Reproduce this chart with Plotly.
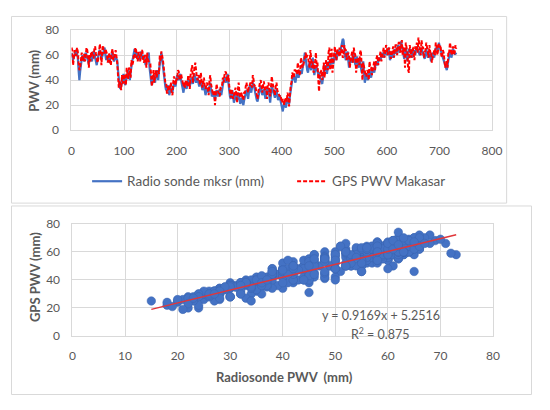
import plotly.graph_objects as go

# ---------------- data ----------------
# readings every 3 days (days 0, 3, 6, ...)
day_step = 3
radiosonde_pwv = [
    62, 56, 60, 64, 58, 40, 54, 60, 55, 62,
    58, 53, 60, 55, 63, 58, 52, 60, 64, 57,
    61, 66, 56, 60, 54, 58, 62, 55, 59, 56,
    40, 33, 38, 45, 36, 42, 48, 40, 52, 58,
    65, 58, 62, 56, 63, 57, 60, 52, 58, 62,
    42, 36, 44, 38, 48, 40, 55, 62, 50, 38,
    32, 36, 28, 34, 30, 38, 35, 44, 40, 45,
    36, 30, 38, 33, 40, 35, 42, 37, 45, 38,
    42, 35, 40, 32, 36, 28, 34, 30, 38, 27,
    30, 24, 32, 27, 33, 28, 37, 42, 38, 45,
    30, 25, 32, 22, 28, 24, 30, 21, 26, 20,
    28, 32, 25, 36, 30, 38, 34, 26, 23, 30,
    35, 28, 33, 25, 34, 32, 22, 36, 30, 26,
    33, 24, 28, 20, 15, 22, 18, 26, 21, 32,
    40, 44, 38, 46, 42, 48, 45, 52, 62, 50,
    46, 55, 48, 58, 44, 52, 46, 45, 40, 37,
    48, 52, 45, 55, 50, 58, 53, 62, 56, 64,
    60, 66, 73, 62, 56, 63, 50, 58, 54, 62,
    52, 59, 50, 56, 46, 55, 38, 45, 40, 48,
    42, 50, 46, 55, 52, 58, 56, 62, 58, 64,
    60, 66, 56, 63, 58, 65, 61, 68, 62, 71,
    64, 57, 66, 55, 65, 65, 58, 64, 60, 67,
    62, 60, 66, 61, 57, 65, 58, 63, 55, 62,
    58, 66, 62, 70, 64, 60, 56, 52, 48, 56,
    63, 58, 65, 61, 62,
]
gps_pwv = [
    66, 52, 64, 60, 63, 48, 60, 55, 61, 58,
    64, 50, 55, 62, 58, 67, 58, 57, 69, 52,
    68, 62, 63, 54, 62, 52, 65, 58, 64, 54,
    34, 36, 44, 38, 42, 50, 41, 48, 56, 54,
    58, 64, 55, 62, 58, 63, 54, 59, 62, 55,
    53, 35, 48, 44, 42, 47, 60, 63, 56, 44,
    38, 30, 32, 38, 28, 43, 36, 40, 47, 41,
    42, 35, 34, 40, 44, 33, 48, 38, 50, 46,
    40, 42, 46, 34, 42, 33, 38, 28, 44, 32,
    28, 20, 37, 30, 27, 34, 42, 44, 46, 40,
    36, 26, 30, 28, 34, 22, 38, 26, 30, 24,
    30, 38, 30, 36, 37, 44, 35, 32, 25, 36,
    40, 30, 39, 32, 25, 38, 27, 43, 35, 28,
    38, 30, 27, 25, 25, 20, 24, 30, 19, 36,
    46, 42, 48, 45, 50, 46, 55, 52, 58, 58,
    58, 50, 57, 55, 48, 62, 54, 31, 46, 40,
    54, 50, 53, 62, 48, 65, 55, 67, 56, 60,
    66, 62, 58, 68, 64, 60, 60, 56, 63, 66,
    60, 56, 58, 62, 52, 54, 46, 43, 47, 55,
    50, 48, 55, 54, 60, 56, 63, 60, 66, 62,
    66, 64, 62, 60, 67, 63, 68, 66, 70, 66,
    60, 64, 70, 62, 46, 62, 66, 60, 67, 70,
    74, 62, 72, 66, 62, 70, 60, 68, 63, 58,
    64, 70, 60, 69, 68, 58, 62, 50, 55, 63,
    70, 60, 67, 62, 65,
]
# readings in between (days 1.5, 4.5, 7.5, ...)
radiosonde_pwv_mid = [
    58, 59, 63, 61, 48, 47, 57, 57, 59, 60,
    55, 57, 57, 60, 61, 55, 56, 63, 60, 59,
    64, 60, 58, 57, 56, 60, 58, 57, 57, 48,
    35, 35, 42, 40, 39, 45, 44, 46, 55, 62,
    61, 60, 59, 60, 60, 59, 56, 55, 60, 50,
    39, 40, 41, 43, 44, 48, 58, 56, 44, 35,
    34, 32, 31, 32, 34, 36, 40, 42, 43, 40,
    33, 34, 35, 37, 38, 38, 40, 41, 41, 40,
    38, 37, 36, 34, 32, 31, 32, 34, 32, 28,
    27, 28, 29, 30, 30, 32, 40, 40, 42, 38,
    27, 28, 27, 25, 26, 27, 25, 23, 23, 24,
    30, 28, 30, 33, 34, 36, 30, 24, 27, 33,
    31, 30, 29, 29, 33, 27, 29, 33, 28, 29,
    28, 26, 24, 18, 19, 20, 22, 23, 27, 36,
    42, 41, 42, 44, 45, 46, 49, 57, 56, 48,
    50, 51, 53, 51, 48, 49, 45, 42, 38, 43,
    50, 48, 50, 52, 54, 55, 57, 59, 60, 62,
    63, 69, 72, 59, 59, 56, 54, 56, 58, 57,
    55, 54, 53, 51, 50, 46, 41, 42, 44, 45,
    46, 48, 50, 53, 55, 57, 59, 60, 61, 62,
    63, 61, 59, 60, 61, 63, 64, 65, 66, 68,
    60, 61, 60, 60, 62, 61, 61, 62, 64, 65,
    61, 63, 63, 59, 61, 61, 60, 59, 58, 60,
    62, 64, 66, 67, 62, 58, 54, 50, 52, 60,
    60, 62, 63, 61,
]
gps_pwv_mid = [
    64, 57, 60, 66, 54, 50, 62, 60, 55, 66,
    59, 60, 63, 58, 65, 61, 54, 66, 62, 64,
    62, 65, 61, 60, 54, 62, 56, 61, 60, 44,
    40, 32, 38, 45, 36, 44, 50, 42, 52, 60,
    66, 58, 62, 55, 64, 56, 60, 50, 56, 54,
    44, 42, 38, 48, 47, 45, 55, 60, 50, 38,
    30, 36, 35, 30, 38, 40, 42, 48, 40, 45,
    37, 38, 40, 35, 40, 44, 52, 46, 54, 42,
    44, 36, 40, 38, 35, 36, 32, 40, 37, 30,
    32, 26, 33, 28, 34, 36, 38, 47, 40, 44,
    30, 33, 25, 30, 28, 32, 30, 28, 26, 30,
    35, 33, 36, 38, 34, 40, 36, 28, 31, 38,
    35, 36, 33, 35, 37, 32, 34, 38, 32, 35,
    32, 29, 28, 22, 21, 26, 23, 27, 30, 38,
    44, 48, 46, 54, 44, 58, 50, 56, 62, 60,
    52, 64, 50, 46, 56, 50, 40, 46, 48, 47,
    42, 56, 48, 66, 58, 46, 64, 58, 65, 60,
    60, 68, 59, 64, 56, 62, 50, 60, 54, 62,
    46, 58, 52, 64, 40, 50, 44, 48, 40, 50,
    44, 53, 48, 58, 52, 62, 55, 64, 58, 68,
    60, 66, 57, 65, 58, 68, 60, 70, 62, 72,
    66, 50, 64, 48, 68, 58, 66, 56, 64, 62,
    68, 60, 66, 58, 64, 66, 58, 62, 54, 60,
    60, 68, 64, 66, 60, 64, 56, 54, 50, 62,
    66, 64, 60, 68,
]

# regression reported on the chart
trend_slope = 0.9169
trend_intercept = 5.2516
trend_r2 = 0.875

top_x_ticks = [0, 100, 200, 300, 400, 500, 600, 700, 800]
top_y_ticks = [0, 20, 40, 60, 80]
bot_x_ticks = [0, 10, 20, 30, 40, 50, 60, 70, 80]
bot_y_ticks = [0, 20, 40, 60, 80]

# interleave the two reading sets into one daily-ordered series
days, rs_all, gps_all = [], [], []
for i in range(len(radiosonde_pwv)):
    days.append(i * day_step)
    rs_all.append(radiosonde_pwv[i])
    gps_all.append(gps_pwv[i])
    if i < len(radiosonde_pwv_mid):
        days.append(i * day_step + day_step / 2)
        rs_all.append(radiosonde_pwv_mid[i])
        gps_all.append(gps_pwv_mid[i])

trend_x = [min(rs_all), max(rs_all)]

# ---------------- figure ----------------
# page body keeps its default 8px margin, so the figure is 16px smaller
# than the 550x410 window and screen coordinates are offset by 8px.
OFF = 8
W, H = 550 - 2 * OFF, 410 - 2 * OFF
FONT = "Lato"
GRAY = "#595959"
GRID = "#D9D9D9"
BLUE = "#4472C4"
RED = "#FF0000"


def fx(sx):
    return min(max((sx - OFF) / W, 0.5 / W), 1 - 0.5 / W)


def fy(sy):
    return min(max(1 - (sy - OFF) / H, 0.5 / H), 1 - 0.5 / H)


fig = go.Figure()

fig.add_trace(go.Scatter(
    x=days, y=rs_all, mode="lines", name="Radio sonde mksr (mm)",
    line=dict(color=BLUE, width=2.2), xaxis="x", yaxis="y"))
fig.add_trace(go.Scatter(
    x=days, y=gps_all, mode="lines", name="GPS PWV Makasar",
    line=dict(color=RED, width=2, dash="4px,2px"), xaxis="x", yaxis="y"))

fig.add_trace(go.Scatter(
    x=rs_all, y=gps_all, mode="markers", showlegend=False,
    marker=dict(color=BLUE, size=8.5, line=dict(color="#3A64B0", width=0.5)),
    xaxis="x2", yaxis="y2"))
fig.add_trace(go.Scatter(
    x=trend_x, y=[trend_slope * v + trend_intercept for v in trend_x],
    mode="lines", showlegend=False, line=dict(color="#E0363A", width=1.5),
    xaxis="x2", yaxis="y2"))

axis_common = dict(
    showgrid=True, gridcolor=GRID, gridwidth=1, zeroline=False,
    showline=True, linecolor=GRID, mirror=True,
    tickfont=dict(family=FONT, size=12, color=GRAY), ticks="",
    ticklabelstandoff=9,
)

fig.update_layout(
    width=W, height=H, margin=dict(l=0, r=0, t=0, b=0),
    paper_bgcolor="white", plot_bgcolor="white",
    font=dict(family=FONT, color=GRAY),
    xaxis=dict(domain=[fx(70), fx(501)], range=[0, 800], tickvals=top_x_ticks,
               anchor="y", **axis_common),
    yaxis=dict(domain=[fy(126.7), fy(22.7)], range=[0, 80], tickvals=top_y_ticks,
               anchor="x", **axis_common),
    xaxis2=dict(domain=[fx(71), fx(502)], range=[0, 80], tickvals=bot_x_ticks,
                anchor="y2", **axis_common),
    yaxis2=dict(domain=[fy(340.7), fy(224)], range=[0, 80], tickvals=bot_y_ticks,
                anchor="x2", **axis_common),
    legend=dict(orientation="h", x=fx(86), xanchor="left", y=fy(180), yanchor="middle",
                font=dict(family=FONT, size=13.5, color=GRAY), bgcolor="rgba(0,0,0,0)",
                entrywidthmode="pixels", entrywidth=160, borderwidth=0,
                itemwidth=30),
    showlegend=True,
)

# panel borders
fig.add_shape(type="rect", xref="paper", yref="paper", x0=fx(4), x1=fx(516),
              y0=fy(202.5), y1=fy(4.5), line=dict(color=GRID, width=1))
fig.add_shape(type="rect", xref="paper", yref="paper", x0=fx(4), x1=fx(548),
              y0=fy(408), y1=fy(205.5), line=dict(color=GRID, width=1))

# axis titles
title_font = dict(family=FONT, size=13, color=GRAY)
fig.add_annotation(text="<b>PWV (mm)</b>", xref="paper", yref="paper", x=fx(32), y=fy(75),
                   xanchor="center", yanchor="middle", textangle=-90, showarrow=False,
                   font=title_font)
fig.add_annotation(text="<b>GPS PWV (mm)</b>", xref="paper", yref="paper", x=fx(32), y=fy(279),
                   xanchor="center", yanchor="middle", textangle=-90, showarrow=False,
                   font=title_font)
fig.add_annotation(text="<b>Radiosonde PWV  (mm)</b>", xref="paper", yref="paper", x=fx(288),
                   y=fy(383), xanchor="center", yanchor="middle", showarrow=False,
                   font=title_font)

# regression text
eq_font = dict(family=FONT, size=12.5, color=GRAY)
fig.add_annotation(text=f"y = {trend_slope}x + {trend_intercept}", xref="paper", yref="paper",
                   x=fx(387), y=fy(319), xanchor="center", yanchor="middle",
                   showarrow=False, font=eq_font)
fig.add_annotation(text=f"R<sup>2</sup> = {trend_r2}", xref="paper", yref="paper",
                   x=fx(387), y=fy(338), xanchor="center", yanchor="middle",
                   showarrow=False, font=eq_font)

fig.write_html("out.html", config={"displayModeBar": False})
